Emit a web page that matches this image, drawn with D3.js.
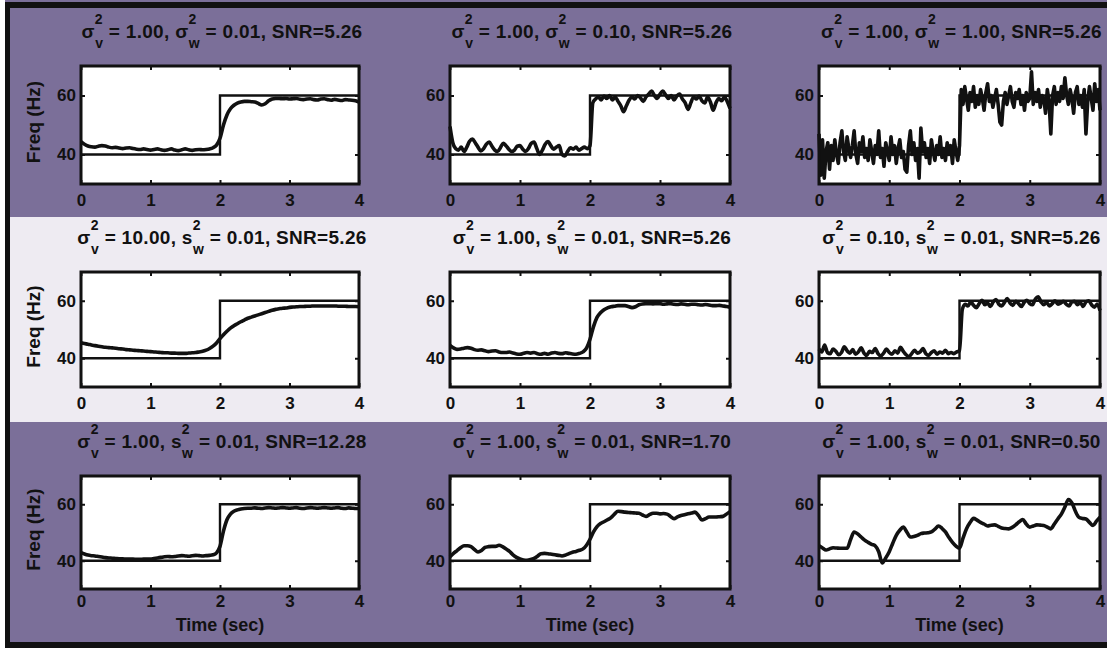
<!DOCTYPE html>
<html>
<head>
<meta charset="utf-8">
<script src="https://cdn.jsdelivr.net/npm/d3@7"></script>
<style>
  body { margin: 0; background: #ffffff; }
  svg { display: block; }
  text { font-family: "Liberation Sans", Arial, sans-serif; font-weight: bold; fill: #111; }
</style>
</head>
<body>
<svg id="chart" width="1107" height="648"></svg>
<script>
// ---- data ----------------------------------------------------------------
const timeTicks = [0, 1, 2, 3, 4];
const freqTicks = [40, 60];
const freqDomain = [30, 70];
const timeDomain = [0, 4];

// true frequency: a step from 40 Hz to 60 Hz at t = 2 s
const stepTimes = [0, 2, 2, 4];
const stepFreqs = [40, 40, 60, 60];

// panel labels (row by row)
const sigmaV  = ["1.00", "1.00", "1.00", "10.00", "1.00", "0.10", "1.00", "1.00", "1.00"];
const wSymbol = ["σ", "σ", "σ", "s", "s", "s", "s", "s", "s"];
const sigmaW  = ["0.01", "0.10", "1.00", "0.01", "0.01", "0.01", "0.01", "0.01", "0.01"];
const snrText = ["5.26", "5.26", "5.26", "5.26", "5.26", "5.26", "12.28", "1.70", "0.50"];

// tracked frequency estimates, uniformly sampled over 0..4 s
const est1 = [
  44.3, 43.5, 42.9, 42.6, 42.5, 42.8, 43.0, 42.9, 42.5, 42.3,
  42.4, 42.2, 42.0, 42.2, 42.3, 42.0, 41.8, 41.7, 41.9, 41.7,
  41.5, 41.7, 41.9, 41.6, 41.4, 41.6, 41.9, 41.5, 41.3, 41.6,
  41.9, 41.6, 41.4, 41.6, 41.7, 41.6, 41.7, 41.9, 42.3, 43.2,
  45.5, 50.0, 53.4, 55.5, 56.7, 57.4, 57.8, 58.0, 58.0, 57.9,
  57.8, 57.3, 56.8, 57.2, 58.2, 58.8, 59.0, 59.0, 58.9, 59.0,
  58.8, 58.9, 59.0, 58.7, 58.6, 58.8, 58.9, 58.6, 58.5, 58.8,
  58.9, 58.6, 58.4, 58.7, 58.5, 58.3, 58.6, 58.5, 58.4, 58.2,
  57.8
];
const est2 = [
  49.5, 44.0, 42.0, 41.5, 42.5, 41.0, 42.5, 44.5, 45.2, 44.0,
  42.5, 41.2, 42.0, 43.5, 44.2, 42.8, 41.5, 41.0, 42.3, 43.8,
  43.0, 41.8, 41.0, 41.5, 42.8, 43.0, 41.8, 41.0, 42.0, 43.8,
  44.2, 42.0, 40.0, 41.5, 43.5, 44.4, 43.0, 41.8, 42.5, 43.0,
  40.0, 39.5, 41.0, 42.3, 41.8, 42.5, 41.5, 42.0, 42.5, 42.0,
  43.0, 57.5, 58.8, 59.5, 58.5, 59.8, 59.0, 60.0, 58.5, 59.5,
  58.0, 56.5, 54.5, 56.5, 58.5, 59.5, 58.8, 60.0, 59.2, 58.0,
  59.5, 60.5, 61.5, 60.0, 59.0, 60.5, 61.5, 60.2, 59.0, 60.0,
  58.5, 59.8, 60.5, 58.8, 57.5, 55.3, 57.5, 59.5, 58.8, 59.8,
  58.2, 57.5, 59.5, 57.8, 55.0, 57.5, 59.0, 58.2, 59.5, 58.0,
  55.6
];
const est3 = [
  47, 33, 45, 32, 41, 44, 35, 43, 38, 45,
  40, 37, 44, 48, 41, 38, 46, 42, 39, 43,
  48, 40, 37, 44, 41, 46, 39, 42, 38, 45,
  41, 37, 43, 40, 48, 39, 42, 36, 44, 41,
  38, 46, 40, 43, 37, 42, 45, 39, 41, 35,
  34, 43, 48, 40, 44, 38, 42, 32, 49, 41,
  44, 39, 42, 37, 45, 41, 38, 43, 40, 46,
  39, 42, 38, 44, 40, 43, 37, 45, 41, 38,
  43, 62, 57, 63, 59, 55, 61, 58, 63, 56,
  60, 57, 62, 59, 55, 61, 64, 58, 60, 56,
  59, 62, 57, 51, 50, 58, 61, 57, 60, 63,
  58, 56, 61, 59, 62, 57, 60, 55, 61, 58,
  59, 68, 57, 61, 58, 62, 56, 60, 59, 54,
  62, 58, 47, 60, 63, 57, 61, 58, 63, 59,
  66, 60, 57, 62, 59, 54, 61, 63, 57, 60,
  56, 62, 47, 58, 63, 59, 55, 64, 58, 62,
  55
];
const est4 = [
  45.4, 45.1, 44.9, 44.6, 44.4, 44.2, 44.0, 43.8, 43.7, 43.6,
  43.5, 43.3, 43.2, 43.0, 42.9, 42.8, 42.7, 42.6, 42.5, 42.4,
  42.3, 42.2, 42.1, 42.0, 41.9, 41.9, 41.8, 41.8, 41.7, 41.7,
  41.7, 41.8, 41.9, 42.0, 42.2, 42.4, 42.8, 43.4, 44.2, 45.3,
  46.8, 48.2, 49.4, 50.5, 51.3, 52.0, 52.7, 53.3, 53.9, 54.3,
  54.7, 55.1, 55.5, 55.9, 56.3, 56.7, 57.0, 57.2, 57.4, 57.5,
  57.7, 57.8, 57.9, 58.0, 58.0, 58.1, 58.1, 58.2, 58.2, 58.2,
  58.2, 58.2, 58.2, 58.2, 58.1, 58.1, 58.1, 58.0, 58.0, 58.0,
  57.9
];
const est5 = [
  44.5, 43.6, 43.1, 43.2, 43.5, 43.7, 43.5, 43.0, 42.8, 42.9,
  42.6, 42.3, 42.5, 42.6, 42.2, 42.0, 42.0, 42.2, 41.8, 41.5,
  41.4, 41.7, 42.0, 41.8, 42.0, 41.6, 41.4, 41.7, 41.4, 41.8,
  42.0, 41.7, 41.6, 41.9, 41.7, 41.5, 41.4, 41.7, 42.2, 43.5,
  46.6, 51.0, 54.2, 55.8, 56.9, 57.5, 57.9, 58.1, 58.3, 58.3,
  58.3, 58.0, 57.6, 57.9, 58.6, 58.9, 59.0, 59.0, 58.9, 59.0,
  59.0, 58.8, 58.9, 59.0, 58.8, 58.7, 58.9, 58.8, 58.6, 58.8,
  58.8, 58.6, 58.5, 58.7, 58.5, 58.3, 58.3, 58.4, 58.2, 58.0,
  57.7
];
const est6 = [
  43.2, 42.2, 44.6, 42.0, 41.6, 43.2, 42.4, 41.2, 42.0, 44.0,
  42.6, 41.8, 43.0, 41.4, 42.2, 43.6, 41.8, 41.0, 42.4, 42.0,
  43.4, 41.6, 40.8, 41.8, 43.2, 42.0, 41.4, 42.6, 41.8, 43.8,
  42.4, 41.2, 40.6, 41.6, 42.8, 41.8, 42.2, 43.4, 41.6, 41.0,
  42.0, 42.6, 41.4, 42.2, 41.8, 42.8, 41.6, 42.0, 41.6, 42.2,
  42.6, 57.0, 58.8, 58.2, 59.6, 58.4, 57.6, 59.0, 60.2, 58.6,
  59.2, 58.0, 59.6, 60.4, 58.8, 58.2, 59.4, 60.8, 59.2, 58.4,
  59.8, 59.0, 58.0, 59.4, 60.2, 59.0, 58.6, 60.6, 61.4, 59.6,
  58.6, 59.4, 58.2, 59.0, 60.0, 58.8, 59.2, 59.8, 58.8, 58.2,
  59.6, 59.8, 58.6, 59.4, 58.0, 59.6, 60.0, 58.6, 57.8, 58.8,
  56.6
];
const est7 = [
  42.9, 42.4, 42.0, 41.8, 41.7, 41.5, 41.3, 41.1, 41.0, 40.9,
  40.8, 40.7, 40.7, 40.6, 40.6, 40.6, 40.5, 40.5, 40.6, 40.6,
  40.6, 40.8, 41.0, 41.2, 41.4, 41.5, 41.4, 41.5, 41.7, 41.8,
  41.7, 41.6, 41.8, 41.9, 41.8, 41.7, 41.8, 41.9, 42.1, 42.8,
  45.1, 50.5, 54.5, 56.5, 57.5, 58.0, 58.3, 58.5, 58.6, 58.6,
  58.7, 58.6, 58.5, 58.7, 58.8, 58.7, 58.6, 58.7, 58.8, 58.7,
  58.6, 58.7, 58.8, 58.6, 58.5, 58.7, 58.8, 58.7, 58.6, 58.7,
  58.8, 58.7, 58.6, 58.7, 58.8, 58.6, 58.5, 58.7, 58.6, 58.5,
  58.5
];
const est8 = [
  41.4, 42.6, 43.6, 44.6, 45.3, 45.3, 45.0, 44.0, 43.1, 43.6,
  44.7, 45.0, 45.1, 45.1, 45.5, 45.0, 44.2, 43.3, 42.1, 41.2,
  40.6, 40.3, 40.2, 40.4, 40.8, 41.6, 42.5, 42.6, 42.5, 42.3,
  42.1, 41.9, 41.7, 42.0, 42.5, 43.0, 43.3, 43.7, 44.2, 45.5,
  47.6, 50.2, 52.1, 53.2, 53.8, 54.5, 55.3, 56.5, 57.5, 57.4,
  57.2, 57.1, 57.0, 56.9, 56.8, 56.2, 55.7, 56.3, 56.8, 56.8,
  56.6, 56.7, 56.5, 55.7, 54.9, 55.5, 56.0, 56.3, 56.6, 56.9,
  57.2, 56.0, 54.4, 54.9, 55.5, 55.5, 55.5, 55.6, 55.7, 56.5,
  57.4
];
const est9 = [
  45.3, 44.5, 43.8, 44.2, 44.6, 44.5, 44.4, 44.4, 44.4, 47.5,
  50.2, 49.5, 48.4, 47.3, 46.5, 45.8, 45.3, 43.2, 39.2, 41.0,
  43.2, 46.2, 49.0, 50.8, 51.9, 50.2, 48.4, 48.6, 49.0, 49.6,
  49.8, 49.9, 50.2, 51.2, 52.3, 51.5, 50.2, 48.2, 46.5, 45.2,
  44.4, 48.0, 51.3, 53.5, 55.0, 54.4, 53.6, 53.0, 52.3, 52.6,
  52.7, 52.2, 51.6, 51.4, 51.3, 51.8, 52.7, 53.8, 54.6, 53.0,
  51.9, 52.3, 52.7, 52.6, 52.5, 51.9, 51.3, 53.0, 54.8, 56.5,
  59.0, 61.7, 60.5, 57.5, 55.4, 55.0, 54.8, 53.6, 52.5, 54.0,
  55.4
];
const estimates = [est1, est2, est3, est4, est5, est6, est7, est8, est9];

// ---- layout ----------------------------------------------------------------
const W = 1107, H = 648;
const cols = [[81, 359], [450, 730], [819, 1100]];
const rows = [[66, 184], [272, 387], [476, 589]];
const bands = [
  { y0: 0, y1: 217, fill: "#7b6f99" },
  { y0: 217, y1: 422, fill: "#eeebf2" },
  { y0: 422, y1: H, fill: "#7b6f99" }
];
const ink = "#111";
const titleSize = 19, subSize = 14, tickSize = 17, labelSize = 18;

const svg = d3.select("#chart");

// background bands
svg.selectAll("rect.band").data(bands).join("rect")
  .attr("class", "band")
  .attr("x", 0).attr("width", W)
  .attr("y", d => d.y0).attr("height", d => d.y1 - d.y0)
  .attr("fill", d => d.fill);

// outer frame
svg.append("rect").attr("x", 0).attr("y", 0).attr("width", 5).attr("height", H).attr("fill", "#fff");
svg.append("rect").attr("x", 5).attr("y", 3).attr("width", 5).attr("height", 640).attr("fill", ink);
svg.append("rect").attr("x", 5).attr("y", 2).attr("width", W - 5).attr("height", 6).attr("fill", ink);
svg.append("rect").attr("x", 5).attr("y", 642).attr("width", W - 5).attr("height", 6).attr("fill", ink);

function drawTitle(g, cx, y, i) {
  const t = g.append("text")
    .attr("x", cx).attr("y", y)
    .attr("text-anchor", "middle")
    .style("font-size", titleSize + "px")
    .style("letter-spacing", "0.3px");
  const supW = subSize * 0.556;
  t.append("tspan").text("σ");
  t.append("tspan").attr("dy", -14).style("font-size", subSize + "px").text("2");
  t.append("tspan").attr("dx", -supW).attr("dy", 24).style("font-size", subSize + "px").text("v");
  t.append("tspan").attr("dy", -10).text(" = " + sigmaV[i] + ", " + wSymbol[i]);
  t.append("tspan").attr("dy", -14).style("font-size", subSize + "px").text("2");
  t.append("tspan").attr("dx", -supW).attr("dy", 24).style("font-size", subSize + "px").text("w");
  t.append("tspan").attr("dy", -10).text(" = " + sigmaW[i] + ", SNR=" + snrText[i]);
}

estimates.forEach((series, i) => {
  const r = Math.floor(i / 3), c = i % 3;
  const [x0, x1] = cols[c], [y0, y1] = rows[r];
  const x = d3.scaleLinear().domain(timeDomain).range([x0, x1]);
  const y = d3.scaleLinear().domain(freqDomain).range([y1, y0]);
  const g = svg.append("g");

  g.append("rect")
    .attr("x", x0).attr("y", y0)
    .attr("width", x1 - x0).attr("height", y1 - y0)
    .attr("fill", "#fff");

  // true step
  const stepLine = d3.line().x((d, k) => x(stepTimes[k])).y(d => y(d));
  g.append("path").datum(stepFreqs)
    .attr("d", stepLine)
    .attr("fill", "none").attr("stroke", ink).attr("stroke-width", 2.4);

  // estimate
  const dt = (timeDomain[1] - timeDomain[0]) / (series.length - 1);
  const estLine = d3.line()
    .x((d, k) => x(k * dt))
    .y(d => y(d))
    .curve(i === 2 ? d3.curveLinear : d3.curveMonotoneX);
  g.append("path").datum(series)
    .attr("d", estLine)
    .attr("fill", "none").attr("stroke", ink)
    .attr("stroke-width", 3.6)
    .attr("stroke-linejoin", "round");

  // axes with inward ticks on all four sides
  const pad = r === 2 ? 6 : 10;
  const bottom = g.append("g").attr("transform", `translate(0,${y1})`)
    .call(d3.axisBottom(x).tickValues(timeTicks).tickSize(-4).tickPadding(pad).tickFormat(d3.format("d")));
  const top = g.append("g").attr("transform", `translate(0,${y0})`)
    .call(d3.axisTop(x).tickValues(timeTicks).tickSize(-4).tickFormat(""));
  const left = g.append("g").attr("transform", `translate(${x0},0)`)
    .call(d3.axisLeft(y).tickValues(freqTicks).tickSize(-4).tickPadding(5).tickFormat(d3.format("d")));
  const right = g.append("g").attr("transform", `translate(${x1},0)`)
    .call(d3.axisRight(y).tickValues(freqTicks).tickSize(-4).tickFormat(""));
  [bottom, top, left, right].forEach(a => {
    a.select(".domain").remove();
    a.selectAll("line").attr("stroke", ink).attr("stroke-width", 2);
    a.selectAll("text").attr("fill", ink).style("font-size", tickSize + "px")
      .style("font-family", "'Liberation Sans', Arial, sans-serif").style("font-weight", "bold");
  });

  // frame
  g.append("rect")
    .attr("x", x0).attr("y", y0)
    .attr("width", x1 - x0).attr("height", y1 - y0)
    .attr("fill", "none").attr("stroke", ink).attr("stroke-width", 3);

  drawTitle(g, (x0 + x1) / 2 + 2, y0 - 28, i);

  if (c === 0) {
    g.append("text")
      .attr("transform", `translate(40,${(y0 + y1) / 2 - 3}) rotate(-90)`)
      .attr("text-anchor", "middle")
      .style("font-size", "19px")
      .text("Freq (Hz)");
  }
  if (r === 2) {
    g.append("text")
      .attr("x", (x0 + x1) / 2)
      .attr("y", 631)
      .attr("text-anchor", "middle")
      .style("font-size", labelSize + "px")
      .text("Time (sec)");
  }
});
</script>
</body>
</html>
